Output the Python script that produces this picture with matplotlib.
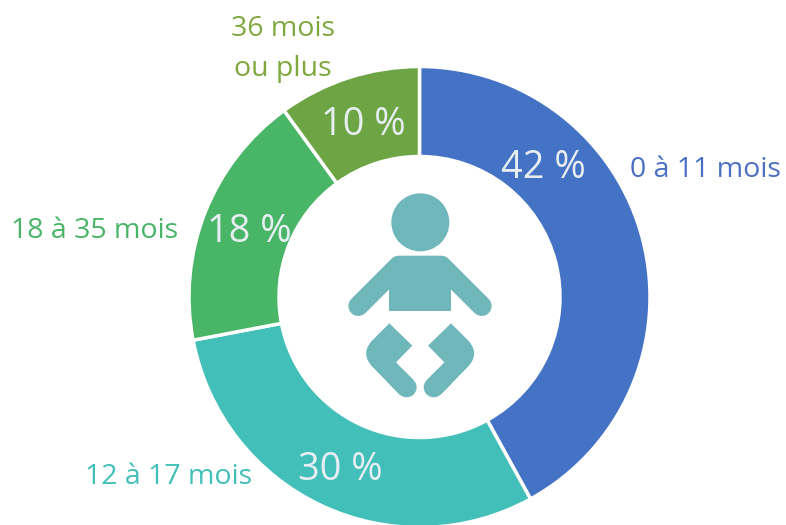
import numpy as np
import matplotlib
matplotlib.use("Agg")
import matplotlib.pyplot as plt
from matplotlib.patches import Circle, PathPatch, Polygon
from matplotlib.path import Path

categories = ["0 à 11 mois", "12 à 17 mois", "18 à 35 mois", "36 mois\nou plus"]
values = [42, 30, 18, 10]
pct_labels = ["42 %", "30 %", "18 %", "10 %"]
colors = ["#4472C4", "#43BFBA", "#48B567", "#6DA545"]
label_colors = ["#4A6FC4", "#43BFBA", "#48B567", "#7FA83F"]
icon_color = "#70B7BB"

plt.rcParams['font.family'] = ['Open Sans', 'DejaVu Sans']

W, H = 786, 525
fig = plt.figure(figsize=(W / 100, H / 100), dpi=100)
ax = fig.add_axes([0, 0, 1, 1])

cx, cy, r = 419.5, 297, 230.5
# y axis gets flipped below, so the direction is reversed here
ax.pie(values, colors=colors, startangle=-90, counterclock=True,
       center=(cx, cy), radius=r, frame=True,
       wedgeprops=dict(width=r - 140.5, edgecolor="white", linewidth=2.5))
ax.set_xlim(0, W)
ax.set_ylim(H, 0)
ax.set_aspect("auto")
ax.axis("off")

pct_pos = [(543, 168), (340, 470), (249, 232), (363, 125)]
label_pos = [(705, 170), (169, 477), (95, 231), (283, 49)]
for txt, pos in zip(pct_labels, pct_pos):
    ax.text(pos[0], pos[1], txt, color="#E6EEF2", fontsize=27.3, ha="center", va="center")
for txt, pos, c in zip(categories, label_pos, label_colors):
    ax.text(pos[0], pos[1], txt, color=c, fontsize=20.5, ha="center", va="center", linespacing=1.6)


# baby icon, outline measured on the 3x crop of the icon
def px(x, y):
    return (330 + x / 3, 180 + y / 3)


def mirror(x, y):
    return (541 - x, y)


ax.add_patch(Circle(px(271, 127), 29, color=icon_color, lw=0))

arm_x, arm_y = zip(*[px(85, 378), px(206, 257), px(334, 257), px(455, 378)])
ax.plot(arm_x, arm_y, color=icon_color, lw=14.4, solid_capstyle="round", solid_joinstyle="round")
ax.add_patch(Polygon([px(178, 257), px(362, 257), px(362, 394), px(178, 394)], color=icon_color, lw=0))

leg = [(178, 430), (247, 497), (198, 547), (250, 600), (210, 645), (125, 558), (92, 520), (125, 483), (178, 430)]
codes = [Path.MOVETO, Path.LINETO, Path.LINETO, Path.LINETO, Path.LINETO, Path.LINETO,
         Path.CURVE3, Path.CURVE3, Path.CLOSEPOLY]
shin = [(230, 622), (200, 592)]
for conv in (lambda x, y: (x, y), mirror):
    pts = [px(*conv(x, y)) for x, y in leg]
    ax.add_patch(PathPatch(Path(pts, codes), facecolor=icon_color, edgecolor="none", lw=0))
    sx, sy = zip(*[px(*conv(x, y)) for x, y in shin])
    ax.plot(sx, sy, color=icon_color, lw=14.4, solid_capstyle="round")

fig.savefig("out.png", dpi=100)
